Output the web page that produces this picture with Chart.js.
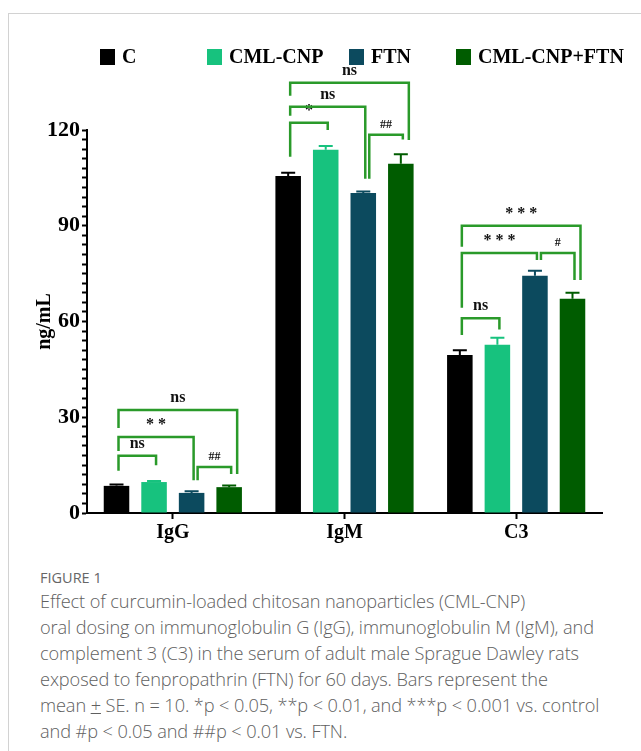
<!DOCTYPE html>
<html>
<head>
<meta charset="utf-8">
<script src="https://cdn.jsdelivr.net/npm/chart.js@4.4.0/dist/chart.umd.min.js"></script>
<style>
    html, body { margin: 0; padding: 0; background: #fff; }
    body { width: 641px; height: 751px; position: relative; overflow: hidden; }
    .tarjeta {
        position: absolute; left: 8px; top: 13px; right: -2px; bottom: -10px;
        border-left: 1px solid #d2d2d2; border-top: 1px solid #d2d2d2;
    }
    #grafica { position: absolute; left: 0; top: 0; }
    .pie {
        position: absolute; left: 40px; top: 568px; width: 600px;
        font-family: "Open Sans", sans-serif; color: #606060;
    }
    .pie .titulo { font-size: 14.5px; color: #666; line-height: 20px; }
    .pie .texto { font-size: 18.2px; font-weight: 300; line-height: 26px; letter-spacing: -0.1px; white-space: nowrap; }
</style>
</head>
<body>
<div class="tarjeta"></div>
<canvas id="grafica" width="641" height="560"></canvas>
<div class="pie">
    <div class="titulo">FIGURE 1</div>
    <div class="texto">Effect of curcumin-loaded chitosan nanoparticles (CML-CNP)<br>oral dosing on immunoglobulin G (IgG), immunoglobulin M (IgM), and<br>complement 3 (C3) in the serum of adult male Sprague Dawley rats<br>exposed to fenpropathrin (FTN) for 60 days. Bars represent the<br>mean <u>+</u> SE. n = 10. *p &lt; 0.05, **p &lt; 0.01, and ***p &lt; 0.001 vs. control<br>and #p &lt; 0.05 and ##p &lt; 0.01 vs. FTN.</div>
</div>
<script>
const categorias = ['IgG', 'IgM', 'C3'];
const grupos = ['C', 'CML-CNP', 'FTN', 'CML-CNP+FTN'];
const colores = ['#000000', '#17c27e', '#0c4a5e', '#005c00'];

const valoresC = [8.5, 105.6, 49.5];
const valoresCML = [9.7, 113.8, 52.7];
const valoresFTN = [6.3, 100.3, 74.3];
const valoresCMLFTN = [8.1, 109.4, 67.1];

const errorC = [0.4, 1.0, 1.5];
const errorCML = [0.3, 1.2, 2.2];
const errorFTN = [0.5, 0.4, 1.6];
const errorCMLFTN = [0.5, 3.0, 1.9];

const ticksY = [0, 30, 60, 90, 120];

// [categoria, desde, hasta, altura, pata izq, pata der, texto]
const comparaciones = [
    [0, 0, 1, 17.9, 13.2, 15.0, 'ns'],
    [0, 0, 2, 23.8, 19.4, 10.3, '**'],
    [0, 0, 3, 32.3, 26.6, 12.2, 'ns'],
    [0, 2, 3, 14.4, 10.3, 12.2, '##'],
    [1, 0, 1, 122.3, 111.6, 120.0, '*'],
    [1, 0, 2, 127.3, 124.5, 104.7, 'ns'],
    [1, 0, 3, 134.8, 130.7, 116.9, 'ns'],
    [1, 2, 3, 118.5, 104.7, 117.0, '##'],
    [2, 0, 1, 61.0, 55.8, 57.5, 'ns'],
    [2, 0, 2, 81.5, 64.3, 79.3, '***'],
    [2, 0, 3, 90.0, 83.4, 73.0, '***'],
    [2, 2, 3, 81.5, 79.3, 73.0, '#']
];

const valores = [valoresC, valoresCML, valoresFTN, valoresCMLFTN];
const errores = [errorC, errorCML, errorFTN, errorCMLFTN];

const fuente = 'Liberation Serif, Times New Roman, serif';
const verdeBarra = '#2a9a2a';
const posLeyenda = [100, 207, 349, 456];

const extrasPlugin = {
    id: 'extras',
    afterDatasetsDraw(chart) {
        const ctx = chart.ctx;
        const y = chart.scales.y;
        ctx.save();
        chart.data.datasets.forEach((ds, i) => {
            const meta = chart.getDatasetMeta(i);
            meta.data.forEach((bar, j) => {
                const arriba = y.getPixelForValue(ds.data[j] + errores[i][j]);
                ctx.strokeStyle = ds.backgroundColor;
                ctx.lineWidth = 2;
                ctx.beginPath();
                ctx.moveTo(bar.x, bar.y);
                ctx.lineTo(bar.x, arriba);
                ctx.moveTo(bar.x - 7, arriba);
                ctx.lineTo(bar.x + 7, arriba);
                ctx.stroke();
            });
        });
        ctx.restore();
    },
    afterDraw(chart) {
        const ctx = chart.ctx;
        const y = chart.scales.y;
        ctx.save();

        // corchetes de significancia
        comparaciones.forEach(c => {
            const [cat, desde, hasta, alto, izq, der, texto] = c;
            const b1 = chart.getDatasetMeta(desde).data[cat];
            const b2 = chart.getDatasetMeta(hasta).data[cat];
            const x1 = b1.x + (desde === 2 ? 6 : 2);
            const x2 = b2.x + (hasta - desde === 3 ? 8 : 2);
            const yt = y.getPixelForValue(alto);
            ctx.strokeStyle = verdeBarra;
            ctx.lineWidth = 2.5;
            ctx.beginPath();
            ctx.moveTo(x1, y.getPixelForValue(izq));
            ctx.lineTo(x1, yt);
            ctx.lineTo(x2, yt);
            ctx.lineTo(x2, y.getPixelForValue(der));
            ctx.stroke();

            ctx.fillStyle = '#111';
            ctx.textAlign = 'center';
            ctx.textBaseline = 'bottom';
            ctx.font = texto.indexOf('#') >= 0 ? 'bold 12px ' + fuente : 'bold 16px ' + fuente;
            const t = texto.indexOf('*') >= 0 ? texto.split('').join(' ') : texto;
            ctx.fillText(t, (x1 + x2) / 2, yt - 4);
        });

        // leyenda
        ctx.font = 'bold 20px ' + fuente;
        ctx.textAlign = 'left';
        ctx.textBaseline = 'middle';
        chart.data.datasets.forEach((ds, i) => {
            const x = posLeyenda[i];
            ctx.fillStyle = ds.backgroundColor;
            ctx.fillRect(x, 49, 15, 16);
            ctx.fillStyle = '#000';
            ctx.fillText(ds.label, x + 22, 58);
        });
        ctx.restore();
    }
};

const datos = {
    labels: categorias,
    datasets: grupos.map((g, i) => ({
        label: g,
        data: valores[i],
        backgroundColor: colores[i],
        borderWidth: 0,
        barPercentage: 0.68,
        categoryPercentage: 0.875
    }))
};

const opciones = {
    responsive: false,
    animation: false,
    layout: { padding: { top: 130, right: 39, left: 0, bottom: 0 } },
    plugins: { legend: { display: false }, tooltip: { enabled: false } },
    scales: {
        x: {
            ticks: { color: '#000', font: { family: fuente, size: 20, weight: 'bold' }, padding: 2 },
            grid: { drawOnChartArea: false, offset: false, tickLength: 6, tickWidth: 2, tickColor: '#000' },
            border: { color: '#000', width: 2 },
            afterFit(s) { s.height = 47; }
        },
        y: {
            min: 0,
            max: 120,
            ticks: {
                stepSize: 3,
                autoSkip: false,
                color: '#000',
                padding: 2,
                font: { family: fuente, size: 22, weight: 'bold' },
                callback: v => ticksY.includes(v) ? v : ''
            },
            grid: { drawOnChartArea: false, tickLength: 5, tickWidth: 2, tickColor: '#000' },
            border: { color: '#000', width: 2 },
            title: {
                display: true,
                text: 'ng/mL',
                color: '#000',
                font: { family: fuente, size: 20, weight: 'bold' },
                padding: { top: 33, bottom: 0 }
            },
            afterFit(s) { s.width = 87; }
        }
    }
};

new Chart(document.getElementById('grafica'), {
    type: 'bar',
    data: datos,
    options: opciones,
    plugins: [extrasPlugin]
});
</script>
</body>
</html>
